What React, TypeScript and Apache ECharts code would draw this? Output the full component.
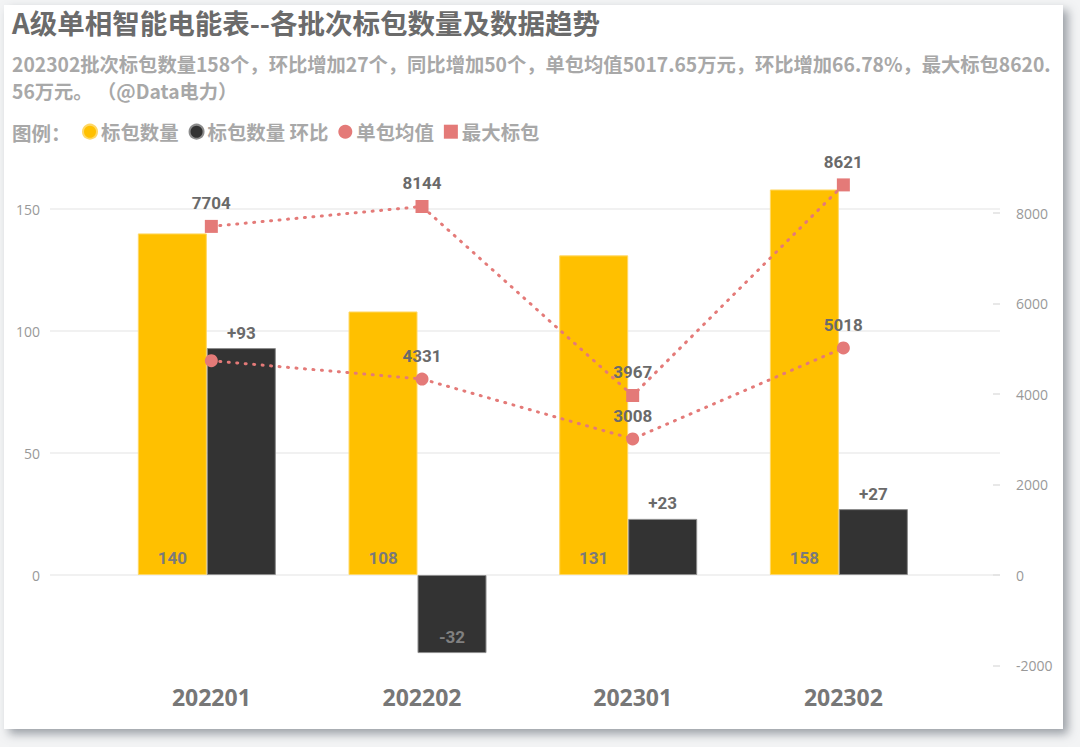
import React, { useEffect, useRef } from "react";
import * as echarts from "echarts";

const categories = ["202201", "202202", "202301", "202302"];
const bidCount = [140, 108, 131, 158];
const bidCountMoM = [93, -32, 23, 27];
const avgPerBid = [4736, 4331, 3008, 5018];
const maxBid = [7704, 8144, 3967, 8621];
const avgLabelHidden = [true, false, false, false];

const leftAxis = { min: 0, max: 150, interval: 50 };
const rightAxis = { min: -2000, max: 8000, interval: 2000 };

const seriesNames = ["标包数量", "标包数量 环比", "单包均值", "最大标包"];
const titleText = "A级单相智能电能表--各批次标包数量及数据趋势";
const subLine1 =
  "202302批次标包数量158个，环比增加27个，同比增加50个，单包均值5017.65万元，环比增加66.78%，最大标包8620.";
const subLine2 = "56万元。 （@Data电力）";
const legendLead = "图例：";

const YELLOW = "#FFC000";
const DARK = "#333333";
const RED = "#E47A78";
const CJK = '"Noto Sans CJK SC", "Noto Sans", sans-serif';
const NUM = 'Roboto, "Noto Sans", sans-serif';

// pixel geometry of the plot (page coordinates)
const ZERO_Y = 575;
const LEFT_PX_PER_UNIT = 366 / 150;
const RIGHT_PX_PER_UNIT = 362 / 8000;
const DATA_TOP = 150;
const DATA_BOTTOM = 680;

export default function App() {
  const ref = useRef<HTMLDivElement>(null);

  useEffect(() => {
    if (!ref.current) return;
    const chart = echarts.init(ref.current, undefined, { renderer: "svg" });

    const leftTop = (ZERO_Y - DATA_TOP) / LEFT_PX_PER_UNIT;
    const leftBottom = (ZERO_Y - DATA_BOTTOM) / LEFT_PX_PER_UNIT;
    const rightTop = (ZERO_Y - DATA_TOP) / RIGHT_PX_PER_UNIT;
    const rightBottom = (ZERO_Y - DATA_BOTTOM) / RIGHT_PX_PER_UNIT;

    const gridA = { left: 50, right: 80, top: ZERO_Y - leftAxis.max * LEFT_PX_PER_UNIT, bottom: 747 - ZERO_Y };
    const gridC = {
      left: 50,
      right: 80,
      top: ZERO_Y - rightAxis.max * RIGHT_PX_PER_UNIT,
      bottom: 747 - (ZERO_Y - rightAxis.min * RIGHT_PX_PER_UNIT),
    };
    const gridB = { left: 101.5, width: 842.7, top: DATA_TOP, height: DATA_BOTTOM - DATA_TOP };
    const gridD = { left: 106, width: 842.7, top: DATA_TOP, height: DATA_BOTTOM - DATA_TOP };

    const option: any = {
      animation: false,
      backgroundColor: "transparent",
      grid: [gridA, gridC, gridB, gridD],
      graphic: [
        {
          type: "text",
          x: 12,
          y: 22,
          style: { text: titleText, font: `bold 27.5px ${CJK}`, fill: "#6b6b6b", verticalAlign: "middle" },
        },
        {
          type: "text",
          x: 12,
          y: 64,
          style: { text: subLine1, font: `bold 19.3px ${CJK}`, fill: "#a8a8a8", verticalAlign: "middle" },
        },
        {
          type: "text",
          x: 12,
          y: 91,
          style: { text: subLine2, font: `bold 19.3px ${CJK}`, fill: "#a8a8a8", verticalAlign: "middle" },
        },
        {
          type: "text",
          x: 12,
          y: 132,
          style: { text: legendLead, font: `bold 19.5px ${CJK}`, fill: "#a8a8a8", verticalAlign: "middle" },
        },
      ],
      legend: {
        left: 77,
        top: 117,
        itemGap: 10,
        itemWidth: 14,
        itemHeight: 14,
        selectedMode: false,
        textStyle: { fontFamily: CJK, fontSize: 19.4, fontWeight: "bold", color: "#a8a8a8", padding: [0, 0, 0, -1] },
        data: [
          { name: seriesNames[0], icon: "circle" },
          { name: seriesNames[1], icon: "circle" },
          { name: seriesNames[2], icon: "circle" },
          { name: seriesNames[3], icon: "rect" },
        ],
      },
      xAxis: [
        { type: "category", gridIndex: 0, data: categories, show: false },
        { type: "category", gridIndex: 1, data: categories, show: false },
        { type: "category", gridIndex: 2, data: categories, show: false },
        {
          type: "category",
          gridIndex: 3,
          data: categories,
          axisLine: { show: false },
          axisTick: { show: false },
          axisLabel: { margin: 5, fontSize: 23, fontWeight: "bold", color: "#777", fontFamily: '"Open Sans", sans-serif' },
        },
      ],
      yAxis: [
        {
          type: "value",
          gridIndex: 0,
          min: leftAxis.min,
          max: leftAxis.max,
          interval: leftAxis.interval,
          axisLine: { show: false },
          axisTick: { show: false },
          axisLabel: { margin: 10, fontSize: 14, color: "#999", fontFamily: '"Open Sans", sans-serif' },
          splitLine: { show: true, lineStyle: { color: "#ececec", width: 1.5 } },
        },
        {
          type: "value",
          gridIndex: 1,
          position: "right",
          min: rightAxis.min,
          max: rightAxis.max,
          interval: rightAxis.interval,
          axisLine: { show: false },
          axisTick: { show: true, inside: true, length: 7, lineStyle: { color: "#e0e0e0", width: 1.5 } },
          axisLabel: {
            margin: 16,
            fontSize: 14,
            color: "#999",
            fontFamily: '"Open Sans", sans-serif',
            formatter: (v: number) => String(v),
          },
          splitLine: { show: false },
        },
        { type: "value", gridIndex: 2, min: leftBottom, max: leftTop, show: false, splitLine: { show: false } },
        { type: "value", gridIndex: 3, min: rightBottom, max: rightTop, show: false, splitLine: { show: false } },
      ],
      series: [
        {
          name: seriesNames[0],
          type: "bar",
          xAxisIndex: 2,
          yAxisIndex: 2,
          barWidth: 69,
          barGap: "0%",
          data: bidCount,
          itemStyle: { color: YELLOW, borderColor: "#FFD866", borderWidth: 1 },
          label: {
            show: true,
            position: "insideBottom",
            distance: 9,
            fontFamily: NUM,
            fontSize: 17,
            fontWeight: "bold",
            color: "#7a7a7a",
          },
        },
        {
          name: seriesNames[1],
          type: "bar",
          xAxisIndex: 2,
          yAxisIndex: 2,
          barWidth: 69,
          barGap: "0%",
          itemStyle: { color: DARK, borderColor: "#8c8c8c", borderWidth: 1 },
          data: bidCountMoM.map((v) => ({
            value: v,
            label:
              v >= 0
                ? { position: "top", distance: 7, color: "#6a6a6a" }
                : { position: "insideBottom", distance: 8, color: "#808080" },
          })),
          label: {
            show: true,
            fontFamily: NUM,
            fontSize: 17,
            fontWeight: "bold",
            formatter: (p: any) => (p.value > 0 ? "+" + p.value : String(p.value)),
          },
        },
        {
          name: seriesNames[2],
          type: "line",
          xAxisIndex: 3,
          yAxisIndex: 3,
          z: 5,
          symbol: "circle",
          symbolSize: 13,
          data: avgPerBid.map((v, i) => ({ value: v, label: { show: !avgLabelHidden[i] } })),
          itemStyle: { color: RED },
          lineStyle: { color: RED, width: 3, type: [1, 7.5], cap: "round" },
          label: {
            show: true,
            position: "top",
            distance: 8,
            fontFamily: NUM,
            fontSize: 17,
            fontWeight: "bold",
            color: "#6a6a6a",
          },
        },
        {
          name: seriesNames[3],
          type: "line",
          xAxisIndex: 3,
          yAxisIndex: 3,
          z: 5,
          symbol: "rect",
          symbolSize: 13,
          data: maxBid,
          itemStyle: { color: RED },
          lineStyle: { color: RED, width: 3, type: [1, 7.5], cap: "round" },
          label: {
            show: true,
            position: "top",
            distance: 8,
            fontFamily: NUM,
            fontSize: 17,
            fontWeight: "bold",
            color: "#6a6a6a",
          },
        },
      ],
    };

    chart.setOption(option);
    return () => chart.dispose();
  }, []);

  return (
    <div style={{ position: "fixed", left: 0, top: 0, width: 1080, height: 747, background: "#f3f4f5", overflow: "hidden" }}>
      <div
        style={{
          position: "absolute",
          left: 4,
          top: 5,
          width: 1059,
          height: 724,
          background: "#ffffff",
          boxShadow: "5px 5px 9px rgba(70,78,90,0.5)",
        }}
      />
      <div ref={ref} style={{ position: "absolute", left: 0, top: 0, width: 1080, height: 747 }} />
    </div>
  );
}
